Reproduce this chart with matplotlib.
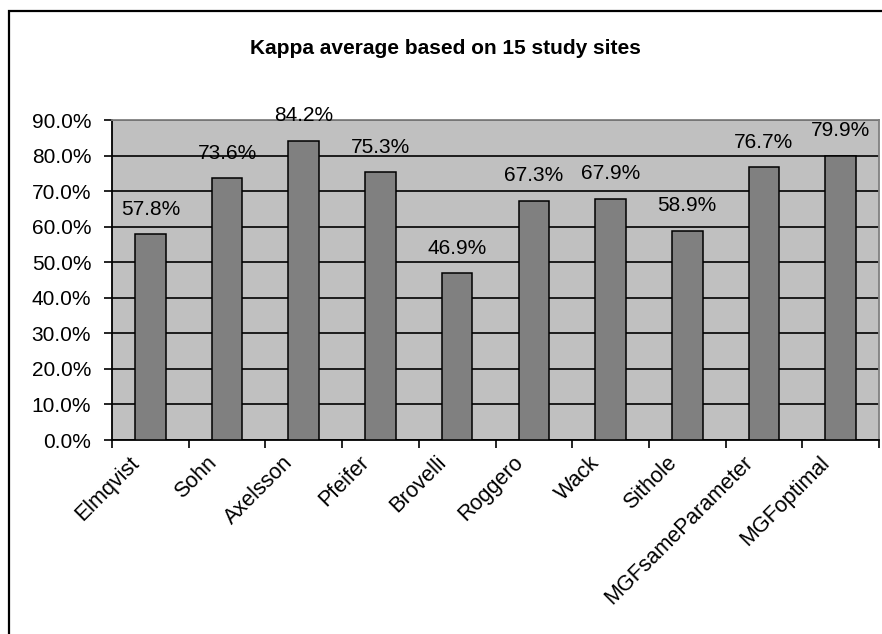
import numpy as np
import matplotlib
matplotlib.use("Agg")
import matplotlib.pyplot as plt
from matplotlib.patches import Rectangle
from matplotlib.transforms import ScaledTranslation
from matplotlib.ticker import FixedLocator, MultipleLocator, FuncFormatter

plt.rcParams['font.family'] = ['Liberation Sans', 'DejaVu Sans']

methods = ["Elmqvist", "Sohn", "Axelsson", "Pfeifer", "Brovelli",
           "Roggero", "Wack", "Sithole", "MGFsameParameter", "MGFoptimal"]
kappa = [57.8, 73.6, 84.2, 75.3, 46.9, 67.3, 67.9, 58.9, 76.7, 79.9]

W, H = 882, 634
fig = plt.figure(figsize=(W/100., H/100.), dpi=100)
fig.patch.set_facecolor('white')

# chart frame (left and top edges only show)
fig.patches.append(Rectangle((9./W, -0.1), 1.2, 1 - 11./H + 0.1, transform=fig.transFigure,
                             fill=False, ec='black', lw=1.6))

ax = fig.add_axes([112./W, 1 - 440./H, (879. - 112.)/W, 320./H])
ax.set_facecolor('#C0C0C0')

x = np.arange(len(methods))
ax.bar(x, kappa, width=0.4, color='#808080', edgecolor='black', linewidth=1.1, zorder=3)

for xi, v in zip(x, kappa):
    ax.annotate('%.1f%%' % v, (xi, v), xytext=(0, 18), textcoords='offset points',
                ha='center', va='center', fontsize=15, zorder=4)

ax.set_xlim(-0.5, len(methods) - 0.5)
ax.set_ylim(0, 90)
ax.yaxis.set_major_locator(MultipleLocator(10))
ax.yaxis.set_major_formatter(FuncFormatter(lambda v, p: '%.1f%%' % v))
ax.grid(axis='y', color='black', lw=1.2, zorder=1)

# category ticks sit on the boundaries, labels at the centres
ax.xaxis.set_major_locator(FixedLocator(np.arange(-0.5, len(methods), 1.0)))
ax.xaxis.set_major_formatter(FuncFormatter(lambda v, p: ''))
ax.xaxis.set_minor_locator(FixedLocator(x))
ax.set_xticklabels(methods, minor=True, rotation=45, ha='right', va='center',
                   rotation_mode='anchor', fontsize=15.5)
ax.tick_params(axis='x', which='minor', length=0, pad=12)
ax.tick_params(axis='x', which='major', length=6, width=1.2, direction='out')
ax.tick_params(axis='y', length=6, width=1.2, direction='out', pad=9, labelsize=15)

# nudge the slanted names left so they end just short of the bar centre
shift = ScaledTranslation(-0.14, -0.03, fig.dpi_scale_trans)
for lab in ax.get_xticklabels(minor=True):
    lab.set_transform(lab.get_transform() + shift)

for side in ('left', 'bottom'):
    ax.spines[side].set_color('black')
    ax.spines[side].set_linewidth(1.3)
for side in ('top', 'right'):
    ax.spines[side].set_color('#808080')
    ax.spines[side].set_linewidth(1.3)

fig.text(0.5 * (9. + W) / W, 1 - 48./H, 'Kappa average based on 15 study sites',
         ha='center', va='center', fontsize=15, fontweight='bold')

fig.savefig('out.png', dpi=100)
plt.close()
